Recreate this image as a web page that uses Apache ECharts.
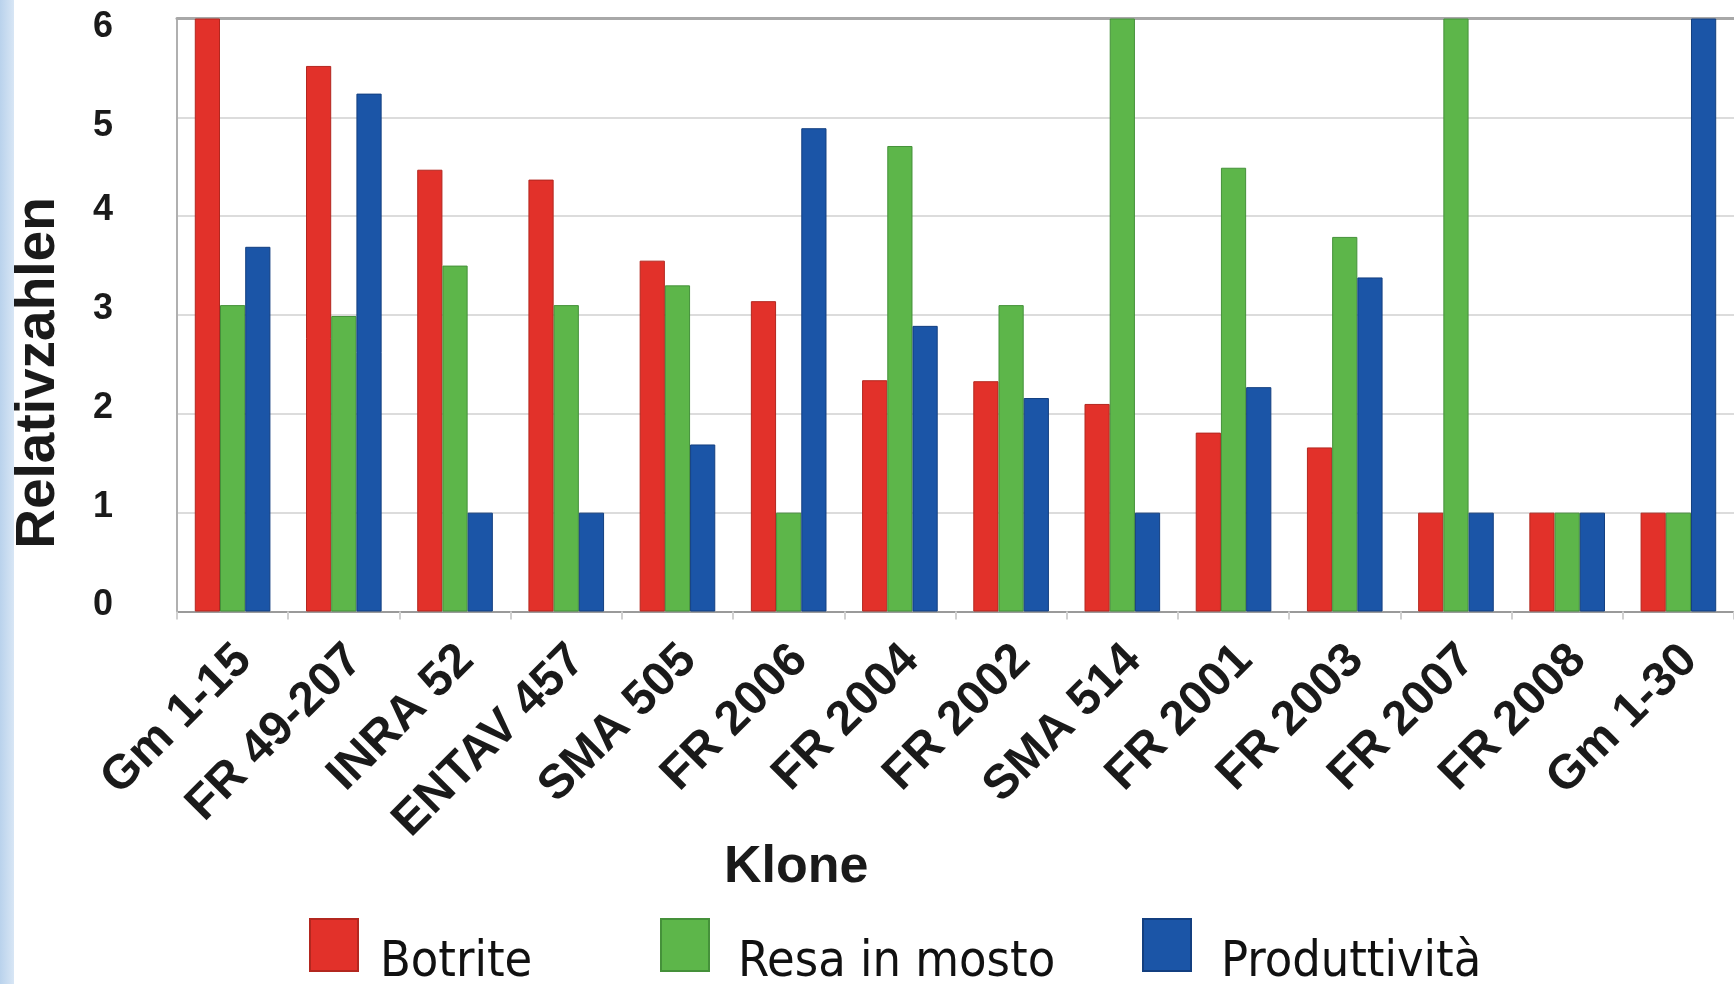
<!DOCTYPE html>
<html>
<head>
<meta charset="utf-8">
<script src="https://cdn.jsdelivr.net/npm/echarts@6/dist/echarts.min.js"></script>
<style>
html,body{margin:0;padding:0;background:#fff;}
#chart{width:1734px;height:984px;}
</style>
</head>
<body>
<div id="chart"></div>
<script>
const categories = ['Gm 1-15','FR 49-207','INRA 52','ENTAV 457','SMA 505','FR 2006','FR 2004','FR 2002','SMA 514','FR 2001','FR 2003','FR 2007','FR 2008','Gm 1-30'];
const botrite = [6, 5.52, 4.47, 4.37, 3.55, 3.14, 2.34, 2.33, 2.1, 1.81, 1.66, 1, 1, 1];
const resaInMosto = [3.1, 2.99, 3.5, 3.1, 3.3, 1, 4.71, 3.1, 6, 4.49, 3.79, 6, 1, 1];
const produttivita = [3.69, 5.24, 1, 1, 1.69, 4.89, 2.89, 2.16, 1, 2.27, 3.38, 1, 1, 6];
const yTicks = [0, 1, 2, 3, 4, 5, 6];
const seriesNames = ['Botrite', 'Resa in mosto', 'Produttività'];

const chart = echarts.init(document.getElementById('chart'));
const legendFont = "'DejaVu Sans Condensed','Liberation Sans Narrow','Open Sans',sans-serif";
const boldFont = "'Liberation Sans',Arial,sans-serif";
function legendAt(name, left, gap) {
  return {
    data: [name], left: left, top: 918, icon: 'rect', itemWidth: 48, itemHeight: 52,
    itemGap: 0, padding: 0,
    formatter: '{t|{name}}',
    textStyle: { fontFamily: legendFont, fontSize: 50, color: '#111', padding: [0, 0, 0, gap],
      rich: { t: { fontFamily: legendFont, fontSize: 50, color: '#111', lineHeight: 86, verticalAlign: 'bottom' } } }
  };
}
const yLab = { fontFamily: boldFont, fontWeight: 'bold', fontSize: 36, color: '#1a1a1a' };
const barStyle = (c, b) => ({ color: c, borderColor: b, borderWidth: 1 });
chart.setOption({
  animation: false,
  backgroundColor: '#ffffff',
  grid: { left: 177, top: 18.5, width: 1568, height: 593, containLabel: false },
  graphic: [
    { type: 'rect', left: 0, top: 0, shape: { width: 14, height: 984 }, z: -1,
      style: { fill: new echarts.graphic.LinearGradient(0, 0, 1, 0, [{offset: 0, color: '#b9d2ec'}, {offset: 1, color: '#d8e6f5'}]) } },
    { type: 'text', x: 39, y: 373, rotation: Math.PI / 2,
      style: { text: 'Relativzahlen', fontFamily: boldFont, fontWeight: 'bold', fontSize: 55, fill: '#1a1a1a', align: 'center', verticalAlign: 'middle' } }
  ],
  title: { text: 'Klone', left: 724, top: 842, padding: 0,
    textStyle: { fontFamily: boldFont, fontWeight: 'bold', fontSize: 52, color: '#1a1a1a' } },
  legend: [
    legendAt(seriesNames[0], 309, 17),
    legendAt(seriesNames[1], 660, 24),
    legendAt(seriesNames[2], 1142, 25)
  ],
  xAxis: [{
    type: 'category', data: categories,
    axisLine: { lineStyle: { color: '#9a9a9a', width: 2 } },
    axisTick: { show: true, length: 8, lineStyle: { color: '#d0d0d0', width: 2 } },
    axisLabel: { interval: 0, rotate: 45, margin: 30, formatter: '{t|{value}}',
      fontFamily: boldFont, fontWeight: 'bold', fontSize: 48, color: '#1a1a1a',
      rich: { t: { fontFamily: boldFont, fontWeight: 'bold', fontSize: 48, color: '#1a1a1a', lineHeight: 80, verticalAlign: 'bottom' } } }
  }, {
    type: 'category', data: categories, position: 'top',
    axisLine: { lineStyle: { color: '#a8a8a8', width: 3 } },
    axisTick: { show: false }, axisLabel: { show: false }
  }],
  yAxis: {
    type: 'value', min: yTicks[0], max: yTicks[yTicks.length - 1], interval: 1,
    axisLine: { show: true, lineStyle: { color: '#b0b0b0', width: 2 } },
    axisTick: { show: false },
    axisLabel: { margin: 64, ...yLab,
      formatter: v => (v >= 5 ? '{lo|' : '{hi|') + v + '}',
      rich: { lo: { ...yLab, lineHeight: 54, verticalAlign: 'bottom' }, hi: { ...yLab, lineHeight: 48, verticalAlign: 'top' } } },
    splitLine: { lineStyle: { color: '#dcdcdc', width: 2 } }
  },
  series: [
    { name: seriesNames[0], type: 'bar', data: botrite, barGap: '0%', barCategoryGap: '32%', itemStyle: barStyle('#e2312a', '#b3271f') },
    { name: seriesNames[1], type: 'bar', data: resaInMosto, barGap: '0%', barCategoryGap: '32%', itemStyle: barStyle('#5db64a', '#45913a') },
    { name: seriesNames[2], type: 'bar', data: produttivita, barGap: '0%', barCategoryGap: '32%', itemStyle: barStyle('#1b55a7', '#133f80') }
  ]
});
</script>
</body>
</html>
